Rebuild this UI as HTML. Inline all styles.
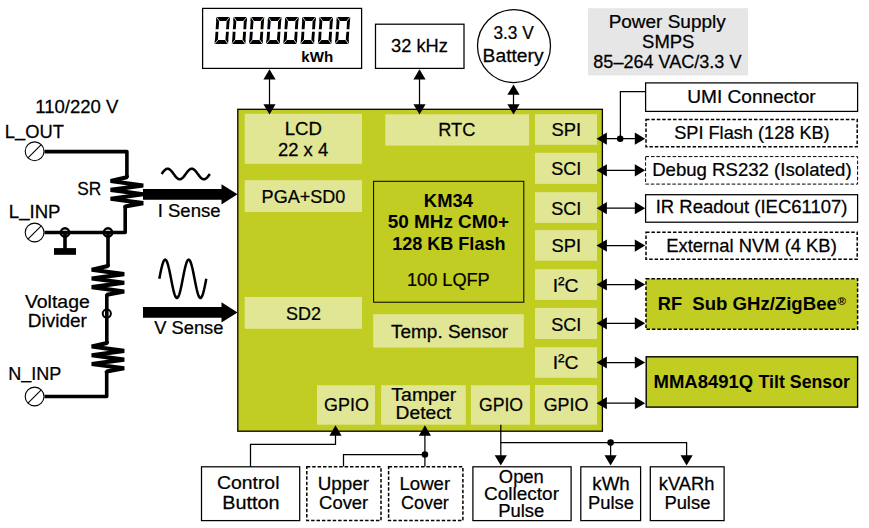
<!DOCTYPE html>
<html><head><meta charset="utf-8"><title>KM34 Smart Meter Block Diagram</title>
<style>
html,body{margin:0;padding:0;background:#fff;}
svg{display:block;}
text{font-family:"Liberation Sans", sans-serif;fill:#000;}
</style></head>
<body>
<svg width="869" height="528" viewBox="0 0 869 528">
<rect x="0" y="0" width="869" height="528" fill="#fff"/>
<rect x="237.8" y="109.3" width="364.6" height="321.9" fill="#c1cd23" stroke="#000" stroke-width="1.3"/>
<rect x="244.7" y="113.8" width="117.3" height="50.0" fill="#e1e695" stroke="none" stroke-width="1"/>
<rect x="244.7" y="180.2" width="117.3" height="31.8" fill="#e1e695" stroke="none" stroke-width="1"/>
<rect x="244.7" y="297" width="117.3" height="31.8" fill="#e1e695" stroke="none" stroke-width="1"/>
<rect x="385.3" y="114.3" width="143.8" height="31.3" fill="#e1e695" stroke="none" stroke-width="1"/>
<rect x="373.6" y="181.3" width="150.2" height="120.9" fill="none" stroke="#000" stroke-width="1"/>
<rect x="373.2" y="314.2" width="150.6" height="33.4" fill="#e1e695" stroke="none" stroke-width="1"/>
<rect x="317" y="385.2" width="58" height="39.5" fill="#e1e695" stroke="none" stroke-width="1"/>
<rect x="381.1" y="385.2" width="84.7" height="39.5" fill="#e1e695" stroke="none" stroke-width="1"/>
<rect x="470.9" y="385.2" width="59.1" height="39.5" fill="#e1e695" stroke="none" stroke-width="1"/>
<rect x="535" y="114.2" width="62" height="30.6" fill="#e1e695" stroke="none" stroke-width="1"/>
<rect x="535" y="152.8" width="62" height="31.1" fill="#e1e695" stroke="none" stroke-width="1"/>
<rect x="535" y="192.2" width="62" height="30.7" fill="#e1e695" stroke="none" stroke-width="1"/>
<rect x="535" y="230.1" width="62" height="30.6" fill="#e1e695" stroke="none" stroke-width="1"/>
<rect x="535" y="269.2" width="62" height="30.7" fill="#e1e695" stroke="none" stroke-width="1"/>
<rect x="535" y="307.9" width="62" height="31.1" fill="#e1e695" stroke="none" stroke-width="1"/>
<rect x="535" y="347.2" width="62" height="30.6" fill="#e1e695" stroke="none" stroke-width="1"/>
<rect x="535" y="385" width="62" height="39.7" fill="#e1e695" stroke="none" stroke-width="1"/>
<text transform="translate(551.47,135.6) scale(0.967,1.0)" font-size="19" stroke="#000" stroke-width="0.25">SPI</text>
<text transform="translate(551.19,174.6) scale(0.9529,1.0)" font-size="19" stroke="#000" stroke-width="0.25">SCI</text>
<text transform="translate(551.19,214.8) scale(0.9529,1.0)" font-size="19" stroke="#000" stroke-width="0.25">SCI</text>
<text transform="translate(551.47,252.3) scale(0.967,1.0)" font-size="19" stroke="#000" stroke-width="0.25">SPI</text>
<text transform="translate(551.19,330.5) scale(0.9529,1.0)" font-size="19" stroke="#000" stroke-width="0.25">SCI</text>
<text transform="translate(543.71,411) scale(0.9398,1.0)" font-size="19" stroke="#000" stroke-width="0.25">GPIO</text>
<text transform="translate(552.71,291.8) scale(1.0175,1.0)" font-size="19" stroke="#000" stroke-width="0.25">I<tspan dy="-1.7">²</tspan><tspan dy="1.7">C</tspan></text>
<text transform="translate(552.71,368.6) scale(1.0175,1.0)" font-size="19" stroke="#000" stroke-width="0.25">I<tspan dy="-1.7">²</tspan><tspan dy="1.7">C</tspan></text>
<text transform="translate(284.76,135.4) scale(0.9795,1.0)" font-size="19" stroke="#000" stroke-width="0.25">LCD</text>
<text transform="translate(278.08,155.8) scale(0.9671,1.0)" font-size="19" stroke="#000" stroke-width="0.25">22 x 4</text>
<text transform="translate(261.61,203.1) scale(0.949,1.0)" font-size="19" stroke="#000" stroke-width="0.25">PGA+SD0</text>
<text transform="translate(286.09,319.6) scale(0.9474,1.0)" font-size="19" stroke="#000" stroke-width="0.25">SD2</text>
<text transform="translate(438.3,135.7) scale(0.9564,1.0)" font-size="19" stroke="#000" stroke-width="0.25">RTC</text>
<text transform="translate(423.86,207) scale(0.9674,1.0)" font-size="19" font-weight="bold">KM34</text>
<text transform="translate(387.68,228.1) scale(0.9962,1.0)" font-size="19" font-weight="bold">50 MHz CM0+</text>
<text transform="translate(392.17,249.5) scale(0.9505,1.0)" font-size="19" font-weight="bold">128 KB Flash</text>
<text transform="translate(406.94,286.3) scale(0.957,1.0)" font-size="19" stroke="#000" stroke-width="0.25">100 LQFP</text>
<text transform="translate(391.07,337.7) scale(0.9981,1.0)" font-size="19" stroke="#000" stroke-width="0.25">Temp. Sensor</text>
<text transform="translate(324.11,410.9) scale(0.942,1.0)" font-size="19" stroke="#000" stroke-width="0.25">GPIO</text>
<text transform="translate(391.36,401.1) scale(1.0247,1.0)" font-size="19" stroke="#000" stroke-width="0.25">Tamper</text>
<text transform="translate(395.61,418.5) scale(1.0113,1.0)" font-size="19" stroke="#000" stroke-width="0.25">Detect</text>
<text transform="translate(478.92,411) scale(0.931,1.0)" font-size="19" stroke="#000" stroke-width="0.25">GPIO</text>
<rect x="202.6" y="8.4" width="159.0" height="60.0" fill="#fff" stroke="#000" stroke-width="1.25"/>
<text transform="translate(301.34,61.7) scale(1.0067,0.98)" font-size="15" font-weight="bold">kWh</text>
<rect x="375.5" y="24.2" width="88.5" height="44.2" fill="#fff" stroke="#000" stroke-width="1.25"/>
<text transform="translate(391.01,51.8) scale(0.9622,1.0)" font-size="19" stroke="#000" stroke-width="0.25">32 kHz</text>
<circle cx="514" cy="46.1" r="36.5" fill="#fff" stroke="#000" stroke-width="1.25"/>
<text transform="translate(493.45,38.7) scale(0.9114,1.0)" font-size="19" stroke="#000" stroke-width="0.25">3.3 V</text>
<text transform="translate(482.61,61.7) scale(1.0142,1.0)" font-size="19" stroke="#000" stroke-width="0.25">Battery</text>
<rect x="588" y="8.2" width="160" height="67.2" fill="#e6e6e6" stroke="none" stroke-width="1"/>
<text transform="translate(608.63,28.1) scale(0.9999,1.0)" font-size="19" stroke="#000" stroke-width="0.25">Power Supply</text>
<text transform="translate(642.07,47.6) scale(0.973,1.0)" font-size="19" stroke="#000" stroke-width="0.25">SMPS</text>
<text transform="translate(593.33,67.9) scale(0.9504,1.0)" font-size="19" stroke="#000" stroke-width="0.25">85–264 VAC/3.3 V</text>
<polyline points="269.5,74.2 269.5,108" fill="none" stroke="#000" stroke-width="1.25" stroke-linejoin="miter" stroke-linecap="butt"/>
<polygon points="269.5,69.2 263.4,79.6 275.6,79.6" fill="#000"/>
<polygon points="269.5,114.6 263.4,104.2 275.6,104.2" fill="#000"/>
<polyline points="419.5,74.2 419.5,108" fill="none" stroke="#000" stroke-width="1.25" stroke-linejoin="miter" stroke-linecap="butt"/>
<polygon points="419.5,69.2 413.4,79.6 425.6,79.6" fill="#000"/>
<polygon points="419.5,114.6 413.4,104.2 425.6,104.2" fill="#000"/>
<polyline points="513.5,89.4 513.5,108" fill="none" stroke="#000" stroke-width="1.25" stroke-linejoin="miter" stroke-linecap="butt"/>
<polygon points="513.5,84.4 507.4,94.8 519.6,94.8" fill="#000"/>
<polygon points="513.5,114.6 507.4,104.2 519.6,104.2" fill="#000"/>
<rect x="645.6" y="82.9" width="212.0" height="28.5" fill="#fff" stroke="#000" stroke-width="1.25"/>
<text transform="translate(687.22,102.6) scale(1.0054,1.0)" font-size="19" stroke="#000" stroke-width="0.25">UMI Connector</text>
<rect x="646" y="119.4" width="211.2" height="27.3" fill="#fff" stroke="#000" stroke-width="1.5" stroke-dasharray="3.5 1.9"/>
<text transform="translate(674.18,138.5) scale(0.9571,1.0)" font-size="19" stroke="#000" stroke-width="0.25">SPI Flash (128 KB)</text>
<rect x="645.6" y="156.6" width="212.0" height="27.5" fill="#fff" stroke="#000" stroke-width="1" stroke-dasharray="3.5 1.9"/>
<text transform="translate(652.17,175.9) scale(0.9783,1.0)" font-size="19" stroke="#000" stroke-width="0.25">Debug RS232 (Isolated)</text>
<rect x="645.6" y="194.7" width="212.0" height="27.5" fill="#fff" stroke="#000" stroke-width="1.25"/>
<text transform="translate(655.69,212.6) scale(0.9733,1.0)" font-size="19" stroke="#000" stroke-width="0.25">IR Readout (IEC61107)</text>
<rect x="646" y="232.2" width="211.2" height="27.1" fill="#fff" stroke="#000" stroke-width="1.5" stroke-dasharray="3.5 1.9"/>
<text transform="translate(666.18,251.7) scale(0.9679,1.0)" font-size="19" stroke="#000" stroke-width="0.25">External NVM (4 KB)</text>
<rect x="646" y="278.7" width="211.6" height="50.6" fill="#c1cd23" stroke="#000" stroke-width="1.5" stroke-dasharray="3.5 1.9"/>
<text y="309.6" font-size="19" font-weight="bold"><tspan x="657.87" textLength="24.28" lengthAdjust="spacingAndGlyphs">RF</tspan> <tspan x="692.24" textLength="144.58" lengthAdjust="spacingAndGlyphs">Sub GHz/ZigBee</tspan><tspan font-size="11.5" dx="0.8" dy="-5">®</tspan></text>
<rect x="646.2" y="356.8" width="211.4" height="50.3" fill="#c1cd23" stroke="#000" stroke-width="1.4"/>
<text y="387.5" font-size="19" font-weight="bold"><tspan x="653.55" textLength="99.65" lengthAdjust="spacingAndGlyphs">MMA8491Q</tspan> <tspan x="758.58" textLength="91.38" lengthAdjust="spacingAndGlyphs">Tilt Sensor</tspan></text>
<polyline points="605,138.7 640,138.7" fill="none" stroke="#000" stroke-width="1.25" stroke-linejoin="miter" stroke-linecap="butt"/>
<polygon points="596.5,138.7 606.9,132.6 606.9,144.8" fill="#000"/>
<polygon points="645.2,138.7 634.8,132.6 634.8,144.8" fill="#000"/>
<polyline points="605,170.3 640,170.3" fill="none" stroke="#000" stroke-width="1.25" stroke-linejoin="miter" stroke-linecap="butt"/>
<polygon points="596.5,170.3 606.9,164.2 606.9,176.4" fill="#000"/>
<polygon points="645.2,170.3 634.8,164.2 634.8,176.4" fill="#000"/>
<polyline points="605,208.2 640,208.2" fill="none" stroke="#000" stroke-width="1.25" stroke-linejoin="miter" stroke-linecap="butt"/>
<polygon points="596.5,208.2 606.9,202.1 606.9,214.3" fill="#000"/>
<polygon points="645.2,208.2 634.8,202.1 634.8,214.3" fill="#000"/>
<polyline points="605,245.6 640,245.6" fill="none" stroke="#000" stroke-width="1.25" stroke-linejoin="miter" stroke-linecap="butt"/>
<polygon points="596.5,245.6 606.9,239.5 606.9,251.7" fill="#000"/>
<polygon points="645.2,245.6 634.8,239.5 634.8,251.7" fill="#000"/>
<polyline points="605,284.5 640,284.5" fill="none" stroke="#000" stroke-width="1.25" stroke-linejoin="miter" stroke-linecap="butt"/>
<polygon points="596.5,284.5 606.9,278.4 606.9,290.6" fill="#000"/>
<polygon points="645.2,284.5 634.8,278.4 634.8,290.6" fill="#000"/>
<polyline points="605,323.3 640,323.3" fill="none" stroke="#000" stroke-width="1.25" stroke-linejoin="miter" stroke-linecap="butt"/>
<polygon points="596.5,323.3 606.9,317.2 606.9,329.4" fill="#000"/>
<polygon points="645.2,323.3 634.8,317.2 634.8,329.4" fill="#000"/>
<polyline points="605,362.5 640,362.5" fill="none" stroke="#000" stroke-width="1.25" stroke-linejoin="miter" stroke-linecap="butt"/>
<polygon points="596.5,362.5 606.9,356.4 606.9,368.6" fill="#000"/>
<polygon points="645.2,362.5 634.8,356.4 634.8,368.6" fill="#000"/>
<polyline points="605,403.2 640,403.2" fill="none" stroke="#000" stroke-width="1.25" stroke-linejoin="miter" stroke-linecap="butt"/>
<polygon points="596.5,403.2 606.9,397.1 606.9,409.3" fill="#000"/>
<polygon points="645.2,403.2 634.8,397.1 634.8,409.3" fill="#000"/>
<polyline points="645,91.6 620.4,91.6 620.4,138.7" fill="none" stroke="#000" stroke-width="1.25" stroke-linejoin="miter" stroke-linecap="butt"/>
<circle cx="620.2" cy="138.7" r="3.3" fill="#000"/>
<rect x="201.5" y="466.8" width="98.2" height="53.8" fill="#fff" stroke="#000" stroke-width="1.25"/>
<text transform="translate(217.03,489.3) scale(1.0196,1.0)" font-size="19" stroke="#000" stroke-width="0.25">Control</text>
<text transform="translate(222.16,508.5) scale(1.044,1.0)" font-size="19" stroke="#000" stroke-width="0.25">Button</text>
<rect x="306.8" y="466.8" width="74.2" height="53.8" fill="#fff" stroke="#000" stroke-width="1.5" stroke-dasharray="3.5 1.9"/>
<text transform="translate(317.64,489.9) scale(0.9926,1.0)" font-size="19" stroke="#000" stroke-width="0.25">Upper</text>
<text transform="translate(319.08,509) scale(0.9707,1.0)" font-size="19" stroke="#000" stroke-width="0.25">Cover</text>
<rect x="388.6" y="466.8" width="74.3" height="53.8" fill="#fff" stroke="#000" stroke-width="1.5" stroke-dasharray="3.5 1.9"/>
<text transform="translate(399.47,489.9) scale(0.9784,1.0)" font-size="19" stroke="#000" stroke-width="0.25">Lower</text>
<text transform="translate(401.0,509) scale(0.9444,1.0)" font-size="19" stroke="#000" stroke-width="0.25">Cover</text>
<rect x="472.9" y="466.8" width="98.2" height="53.8" fill="#fff" stroke="#000" stroke-width="1.25"/>
<text transform="translate(498.83,482.7) scale(0.968,1.0)" font-size="19" stroke="#000" stroke-width="0.25">Open</text>
<text transform="translate(484.05,500.1) scale(0.9997,1.0)" font-size="19" stroke="#000" stroke-width="0.25">Collector</text>
<text transform="translate(498.18,516.8) scale(0.9706,1.0)" font-size="19" stroke="#000" stroke-width="0.25">Pulse</text>
<rect x="580.8" y="466.8" width="59.8" height="53.8" fill="#fff" stroke="#000" stroke-width="1.25"/>
<text transform="translate(592.33,489.9) scale(0.9864,1.0)" font-size="19" stroke="#000" stroke-width="0.25">kWh</text>
<text transform="translate(587.98,509) scale(0.9684,1.0)" font-size="19" stroke="#000" stroke-width="0.25">Pulse</text>
<rect x="650.3" y="466.8" width="73.8" height="53.8" fill="#fff" stroke="#000" stroke-width="1.25"/>
<text transform="translate(658.86,489.9) scale(0.9639,1.0)" font-size="19" stroke="#000" stroke-width="0.25">kVARh</text>
<text transform="translate(664.38,509) scale(0.9684,1.0)" font-size="19" stroke="#000" stroke-width="0.25">Pulse</text>
<polyline points="250.5,466.5 250.5,444.3 335.5,444.3 335.5,432" fill="none" stroke="#000" stroke-width="1.25" stroke-linejoin="miter" stroke-linecap="butt"/>
<polygon points="335.5,425.3 329.4,435.7 341.6,435.7" fill="#000"/>
<polyline points="343.5,466.5 343.5,454.5 424.9,454.5" fill="none" stroke="#000" stroke-width="1.25" stroke-linejoin="miter" stroke-linecap="butt"/>
<polyline points="424.9,466.5 424.9,432" fill="none" stroke="#000" stroke-width="1.25" stroke-linejoin="miter" stroke-linecap="butt"/>
<circle cx="424.9" cy="454.5" r="3.3" fill="#000"/>
<polygon points="424.9,425.3 418.8,435.7 431.0,435.7" fill="#000"/>
<polyline points="500.8,424.7 500.8,460" fill="none" stroke="#000" stroke-width="1.25" stroke-linejoin="miter" stroke-linecap="butt"/>
<polygon points="500.8,465.6 494.7,455.2 506.9,455.2" fill="#000"/>
<polyline points="500.8,442.6 686.6,442.6 686.6,460" fill="none" stroke="#000" stroke-width="1.25" stroke-linejoin="miter" stroke-linecap="butt"/>
<polygon points="686.6,465.6 680.5,455.2 692.7,455.2" fill="#000"/>
<polyline points="610.6,442.6 610.6,460" fill="none" stroke="#000" stroke-width="1.25" stroke-linejoin="miter" stroke-linecap="butt"/>
<polygon points="610.6,465.6 604.5,455.2 616.7,455.2" fill="#000"/>
<circle cx="610.6" cy="442.6" r="3.3" fill="#000"/>
<text transform="translate(35.21,113.1) scale(0.9774,1.0)" font-size="19" stroke="#000" stroke-width="0.25">110/220 V</text>
<text transform="translate(4.79,137.6) scale(0.9657,1.0)" font-size="19" stroke="#000" stroke-width="0.25">L<tspan dy="-1.8">_</tspan><tspan dy="1.8">OUT</tspan></text>
<text transform="translate(77.22,194.5) scale(0.9127,1.0)" font-size="19" stroke="#000" stroke-width="0.25">SR</text>
<text transform="translate(8.77,217.5) scale(0.979,1.0)" font-size="19" stroke="#000" stroke-width="0.25">L<tspan dy="-1.8">_</tspan><tspan dy="1.8">INP</tspan></text>
<text transform="translate(157.68,217.2) scale(0.9766,1.0)" font-size="19" stroke="#000" stroke-width="0.25">I Sense</text>
<text transform="translate(24.9,307.6) scale(1.0246,1.0)" font-size="19" stroke="#000" stroke-width="0.25">Voltage</text>
<text transform="translate(27.73,326.5) scale(1.0003,1.0)" font-size="19" stroke="#000" stroke-width="0.25">Divider</text>
<text transform="translate(154.21,334.1) scale(0.9645,1.0)" font-size="19" stroke="#000" stroke-width="0.25">V Sense</text>
<text transform="translate(8.21,380.2) scale(0.9496,1.0)" font-size="19" stroke="#000" stroke-width="0.25">N<tspan dy="-1.8">_</tspan><tspan dy="1.8">INP</tspan></text>
<polyline points="44.5,151.6 126.9,151.6 126.9,177" fill="none" stroke="#000" stroke-width="3.6" stroke-linejoin="round" stroke-linecap="butt"/>
<polyline points="126.9,175.6 126.9,177.3 110.6,181.02 143.2,185.44 110.6,189.86 143.2,194.28 110.6,198.7 143.2,203.12 125.2,206.43 125.2,207.43" fill="none" stroke="#000" stroke-width="4.1" stroke-linejoin="bevel" stroke-linecap="butt"/>
<polyline points="125.2,205.5 125.2,232.5 44.5,232.5" fill="none" stroke="#000" stroke-width="3.6" stroke-linejoin="round" stroke-linecap="butt"/>
<polyline points="65,232.5 65,249" fill="none" stroke="#000" stroke-width="3.6" stroke-linejoin="miter" stroke-linecap="butt"/>
<rect x="54" y="248.1" width="22" height="6.7" fill="#000" stroke="none" stroke-width="1"/>
<circle cx="65" cy="232.5" r="4.2" fill="none" stroke="#000" stroke-width="2.4"/>
<polyline points="108,232.5 108,266.5" fill="none" stroke="#000" stroke-width="3.6" stroke-linejoin="miter" stroke-linecap="butt"/>
<circle cx="108" cy="232.5" r="4.2" fill="none" stroke="#000" stroke-width="2.4"/>
<polyline points="107.9,264.4 107.9,266.1 91.7,269.75 124.2,274.1 91.7,278.45 124.2,282.8 91.7,287.15 124.2,291.5 107,294.76 107,295.76" fill="none" stroke="#000" stroke-width="4.1" stroke-linejoin="bevel" stroke-linecap="butt"/>
<polyline points="106.8,294.5 106.8,343" fill="none" stroke="#000" stroke-width="3.6" stroke-linejoin="miter" stroke-linecap="butt"/>
<circle cx="106.8" cy="313.6" r="4.1" fill="none" stroke="#000" stroke-width="2"/>
<polyline points="107,341.2 107,342.9 91.7,346.55 124.2,350.9 91.7,355.25 124.2,359.6 91.7,363.95 124.2,368.3 106.7,371.56 106.7,372.56" fill="none" stroke="#000" stroke-width="4.1" stroke-linejoin="bevel" stroke-linecap="butt"/>
<polyline points="106.7,371 106.7,396.5 44.5,396.5" fill="none" stroke="#000" stroke-width="3.6" stroke-linejoin="round" stroke-linecap="butt"/>
<circle cx="34.6" cy="151.3" r="9.4" fill="#fff" stroke="#000" stroke-width="1.1"/>
<polyline points="28.2,157.7 41.0,144.9" fill="none" stroke="#000" stroke-width="1.1" stroke-linejoin="miter" stroke-linecap="butt"/>
<circle cx="34.6" cy="232.5" r="9.4" fill="#fff" stroke="#000" stroke-width="1.1"/>
<polyline points="28.2,238.9 41.0,226.1" fill="none" stroke="#000" stroke-width="1.1" stroke-linejoin="miter" stroke-linecap="butt"/>
<circle cx="34.6" cy="396.5" r="9.4" fill="#fff" stroke="#000" stroke-width="1.1"/>
<polyline points="28.2,402.9 41.0,390.1" fill="none" stroke="#000" stroke-width="1.1" stroke-linejoin="miter" stroke-linecap="butt"/>
<polygon points="143,188.9 221.5,188.9 221.5,184.20000000000002 237.5,194.3 221.5,204.4 221.5,199.70000000000002 143,199.70000000000002" fill="#000"/>
<polygon points="143,307.0 221.5,307.0 221.5,302.29999999999995 237.5,312.4 221.5,322.5 221.5,317.79999999999995 143,317.79999999999995" fill="#000"/>
<polyline points="161.6,174.0 162.2,173.17 162.81,172.36 163.41,171.59 164.01,170.88 164.62,170.25 165.22,169.71 165.83,169.28 166.43,168.96 167.03,168.77 167.64,168.7 168.24,168.77 168.84,168.96 169.45,169.28 170.05,169.71 170.66,170.25 171.26,170.88 171.86,171.59 172.47,172.36 173.07,173.17 173.68,174.0 174.28,174.83 174.88,175.64 175.49,176.41 176.09,177.12 176.69,177.75 177.3,178.29 177.9,178.72 178.5,179.04 179.11,179.23 179.71,179.3 180.32,179.23 180.92,179.04 181.52,178.72 182.13,178.29 182.73,177.75 183.34,177.12 183.94,176.41 184.54,175.64 185.15,174.83 185.75,174.0 186.35,173.17 186.96,172.36 187.56,171.59 188.16,170.88 188.77,170.25 189.37,169.71 189.98,169.28 190.58,168.96 191.18,168.77 191.79,168.7 192.39,168.77 193.0,168.96 193.6,169.28 194.2,169.71 194.81,170.25 195.41,170.88 196.01,171.59 196.62,172.36 197.22,173.17 197.82,174.0 198.43,174.83 199.03,175.64 199.64,176.41 200.24,177.12 200.84,177.75 201.45,178.29 202.05,178.72 202.66,179.04 203.26,179.23 203.86,179.3 204.47,179.23 205.07,179.04 205.67,178.72 206.28,178.29 206.88,177.75 207.49,177.12 208.09,176.41 208.69,175.64 209.3,174.83 209.9,174.0" fill="none" stroke="#000" stroke-width="2.5" stroke-linejoin="round" stroke-linecap="butt"/>
<polyline points="159.3,278.8 159.89,275.8 160.48,272.87 161.06,270.08 161.65,267.51 162.24,265.22 162.83,263.27 163.41,261.69 164.0,260.54 164.59,259.84 165.18,259.6 165.76,259.84 166.35,260.54 166.94,261.69 167.53,263.27 168.11,265.22 168.7,267.51 169.29,270.08 169.88,272.87 170.46,275.8 171.05,278.8 171.64,281.8 172.23,284.73 172.81,287.52 173.4,290.09 173.99,292.38 174.58,294.33 175.16,295.91 175.75,297.06 176.34,297.76 176.93,298.0 177.51,297.76 178.1,297.06 178.69,295.91 179.28,294.33 179.86,292.38 180.45,290.09 181.04,287.52 181.62,284.73 182.21,281.8 182.8,278.8 183.39,275.8 183.98,272.87 184.56,270.08 185.15,267.51 185.74,265.22 186.33,263.27 186.91,261.69 187.5,260.54 188.09,259.84 188.68,259.6 189.26,259.84 189.85,260.54 190.44,261.69 191.03,263.27 191.61,265.22 192.2,267.51 192.79,270.08 193.38,272.87 193.96,275.8 194.55,278.8 195.14,281.8 195.73,284.73 196.31,287.52 196.9,290.09 197.49,292.38 198.08,294.33 198.66,295.91 199.25,297.06 199.84,297.76 200.43,298.0 201.01,297.76 201.6,297.06 202.19,295.91 202.78,294.33 203.36,292.38 203.95,290.09 204.54,287.52 205.12,284.73 205.71,281.8 206.3,278.8" fill="none" stroke="#000" stroke-width="2.5" stroke-linejoin="round" stroke-linecap="butt"/>
<text transform="translate(214.7,43.9) skewX(-3.8) translate(-0.06,-0.7) scale(1.2676,1.9328)" font-size="19" letter-spacing="3.01">00000000</text>
<g transform="translate(214.7,43.9) skewX(-3.8)"><rect x="0" y="-27.0" width="13.3" height="4.0" fill="#000"/><rect x="0" y="-4.0" width="13.3" height="4.0" fill="#000"/><rect x="0" y="-27.0" width="2.9" height="27.0" fill="#000"/><rect x="10.4" y="-27.0" width="2.9" height="27.0" fill="#000"/><rect x="2.9" y="-23.0" width="7.5" height="19.0" fill="#fff"/><line x1="-0.3" y1="-27.3" x2="3.2" y2="-22.7" stroke="#fff" stroke-width="0.8"/><line x1="13.6" y1="-27.3" x2="10.1" y2="-22.7" stroke="#fff" stroke-width="0.8"/><line x1="-0.3" y1="0.3" x2="3.2" y2="-4.3" stroke="#fff" stroke-width="0.8"/><line x1="13.6" y1="0.3" x2="10.1" y2="-4.3" stroke="#fff" stroke-width="0.8"/><rect x="-0.5" y="-14.75" width="3.9" height="2.5" fill="#fff"/><rect x="9.9" y="-14.75" width="3.9" height="2.5" fill="#fff"/></g>
<g transform="translate(231.9,43.9) skewX(-3.8)"><rect x="0" y="-27.0" width="13.3" height="4.0" fill="#000"/><rect x="0" y="-4.0" width="13.3" height="4.0" fill="#000"/><rect x="0" y="-27.0" width="2.9" height="27.0" fill="#000"/><rect x="10.4" y="-27.0" width="2.9" height="27.0" fill="#000"/><rect x="2.9" y="-23.0" width="7.5" height="19.0" fill="#fff"/><line x1="-0.3" y1="-27.3" x2="3.2" y2="-22.7" stroke="#fff" stroke-width="0.8"/><line x1="13.6" y1="-27.3" x2="10.1" y2="-22.7" stroke="#fff" stroke-width="0.8"/><line x1="-0.3" y1="0.3" x2="3.2" y2="-4.3" stroke="#fff" stroke-width="0.8"/><line x1="13.6" y1="0.3" x2="10.1" y2="-4.3" stroke="#fff" stroke-width="0.8"/><rect x="-0.5" y="-14.75" width="3.9" height="2.5" fill="#fff"/><rect x="9.9" y="-14.75" width="3.9" height="2.5" fill="#fff"/></g>
<g transform="translate(249.1,43.9) skewX(-3.8)"><rect x="0" y="-27.0" width="13.3" height="4.0" fill="#000"/><rect x="0" y="-4.0" width="13.3" height="4.0" fill="#000"/><rect x="0" y="-27.0" width="2.9" height="27.0" fill="#000"/><rect x="10.4" y="-27.0" width="2.9" height="27.0" fill="#000"/><rect x="2.9" y="-23.0" width="7.5" height="19.0" fill="#fff"/><line x1="-0.3" y1="-27.3" x2="3.2" y2="-22.7" stroke="#fff" stroke-width="0.8"/><line x1="13.6" y1="-27.3" x2="10.1" y2="-22.7" stroke="#fff" stroke-width="0.8"/><line x1="-0.3" y1="0.3" x2="3.2" y2="-4.3" stroke="#fff" stroke-width="0.8"/><line x1="13.6" y1="0.3" x2="10.1" y2="-4.3" stroke="#fff" stroke-width="0.8"/><rect x="-0.5" y="-14.75" width="3.9" height="2.5" fill="#fff"/><rect x="9.9" y="-14.75" width="3.9" height="2.5" fill="#fff"/></g>
<g transform="translate(266.3,43.9) skewX(-3.8)"><rect x="0" y="-27.0" width="13.3" height="4.0" fill="#000"/><rect x="0" y="-4.0" width="13.3" height="4.0" fill="#000"/><rect x="0" y="-27.0" width="2.9" height="27.0" fill="#000"/><rect x="10.4" y="-27.0" width="2.9" height="27.0" fill="#000"/><rect x="2.9" y="-23.0" width="7.5" height="19.0" fill="#fff"/><line x1="-0.3" y1="-27.3" x2="3.2" y2="-22.7" stroke="#fff" stroke-width="0.8"/><line x1="13.6" y1="-27.3" x2="10.1" y2="-22.7" stroke="#fff" stroke-width="0.8"/><line x1="-0.3" y1="0.3" x2="3.2" y2="-4.3" stroke="#fff" stroke-width="0.8"/><line x1="13.6" y1="0.3" x2="10.1" y2="-4.3" stroke="#fff" stroke-width="0.8"/><rect x="-0.5" y="-14.75" width="3.9" height="2.5" fill="#fff"/><rect x="9.9" y="-14.75" width="3.9" height="2.5" fill="#fff"/></g>
<g transform="translate(283.5,43.9) skewX(-3.8)"><rect x="0" y="-27.0" width="13.3" height="4.0" fill="#000"/><rect x="0" y="-4.0" width="13.3" height="4.0" fill="#000"/><rect x="0" y="-27.0" width="2.9" height="27.0" fill="#000"/><rect x="10.4" y="-27.0" width="2.9" height="27.0" fill="#000"/><rect x="2.9" y="-23.0" width="7.5" height="19.0" fill="#fff"/><line x1="-0.3" y1="-27.3" x2="3.2" y2="-22.7" stroke="#fff" stroke-width="0.8"/><line x1="13.6" y1="-27.3" x2="10.1" y2="-22.7" stroke="#fff" stroke-width="0.8"/><line x1="-0.3" y1="0.3" x2="3.2" y2="-4.3" stroke="#fff" stroke-width="0.8"/><line x1="13.6" y1="0.3" x2="10.1" y2="-4.3" stroke="#fff" stroke-width="0.8"/><rect x="-0.5" y="-14.75" width="3.9" height="2.5" fill="#fff"/><rect x="9.9" y="-14.75" width="3.9" height="2.5" fill="#fff"/></g>
<g transform="translate(300.7,43.9) skewX(-3.8)"><rect x="0" y="-27.0" width="13.3" height="4.0" fill="#000"/><rect x="0" y="-4.0" width="13.3" height="4.0" fill="#000"/><rect x="0" y="-27.0" width="2.9" height="27.0" fill="#000"/><rect x="10.4" y="-27.0" width="2.9" height="27.0" fill="#000"/><rect x="2.9" y="-23.0" width="7.5" height="19.0" fill="#fff"/><line x1="-0.3" y1="-27.3" x2="3.2" y2="-22.7" stroke="#fff" stroke-width="0.8"/><line x1="13.6" y1="-27.3" x2="10.1" y2="-22.7" stroke="#fff" stroke-width="0.8"/><line x1="-0.3" y1="0.3" x2="3.2" y2="-4.3" stroke="#fff" stroke-width="0.8"/><line x1="13.6" y1="0.3" x2="10.1" y2="-4.3" stroke="#fff" stroke-width="0.8"/><rect x="-0.5" y="-14.75" width="3.9" height="2.5" fill="#fff"/><rect x="9.9" y="-14.75" width="3.9" height="2.5" fill="#fff"/></g>
<g transform="translate(317.9,43.9) skewX(-3.8)"><rect x="0" y="-27.0" width="13.3" height="4.0" fill="#000"/><rect x="0" y="-4.0" width="13.3" height="4.0" fill="#000"/><rect x="0" y="-27.0" width="2.9" height="27.0" fill="#000"/><rect x="10.4" y="-27.0" width="2.9" height="27.0" fill="#000"/><rect x="2.9" y="-23.0" width="7.5" height="19.0" fill="#fff"/><line x1="-0.3" y1="-27.3" x2="3.2" y2="-22.7" stroke="#fff" stroke-width="0.8"/><line x1="13.6" y1="-27.3" x2="10.1" y2="-22.7" stroke="#fff" stroke-width="0.8"/><line x1="-0.3" y1="0.3" x2="3.2" y2="-4.3" stroke="#fff" stroke-width="0.8"/><line x1="13.6" y1="0.3" x2="10.1" y2="-4.3" stroke="#fff" stroke-width="0.8"/><rect x="-0.5" y="-14.75" width="3.9" height="2.5" fill="#fff"/><rect x="9.9" y="-14.75" width="3.9" height="2.5" fill="#fff"/></g>
<g transform="translate(335.1,43.9) skewX(-3.8)"><rect x="0" y="-27.0" width="13.3" height="4.0" fill="#000"/><rect x="0" y="-4.0" width="13.3" height="4.0" fill="#000"/><rect x="0" y="-27.0" width="2.9" height="27.0" fill="#000"/><rect x="10.4" y="-27.0" width="2.9" height="27.0" fill="#000"/><rect x="2.9" y="-23.0" width="7.5" height="19.0" fill="#fff"/><line x1="-0.3" y1="-27.3" x2="3.2" y2="-22.7" stroke="#fff" stroke-width="0.8"/><line x1="13.6" y1="-27.3" x2="10.1" y2="-22.7" stroke="#fff" stroke-width="0.8"/><line x1="-0.3" y1="0.3" x2="3.2" y2="-4.3" stroke="#fff" stroke-width="0.8"/><line x1="13.6" y1="0.3" x2="10.1" y2="-4.3" stroke="#fff" stroke-width="0.8"/><rect x="-0.5" y="-14.75" width="3.9" height="2.5" fill="#fff"/><rect x="9.9" y="-14.75" width="3.9" height="2.5" fill="#fff"/></g>
</svg>
</body></html>
